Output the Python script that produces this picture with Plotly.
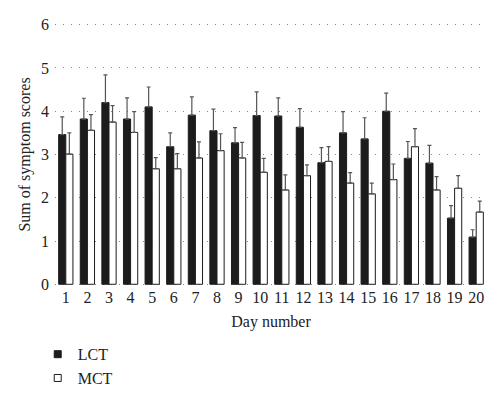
import plotly.graph_objects as go

days = [str(d) for d in range(1, 21)]
lct = [3.46, 3.82, 4.20, 3.82, 4.10, 3.18, 3.91, 3.55, 3.27, 3.90,
       3.89, 3.63, 2.81, 3.50, 3.36, 4.00, 2.91, 2.80, 1.53, 1.09]
lct_err = [0.41, 0.48, 0.64, 0.49, 0.46, 0.32, 0.42, 0.50, 0.35, 0.55,
           0.42, 0.43, 0.35, 0.49, 0.49, 0.42, 0.39, 0.41, 0.29, 0.17]
mct = [3.01, 3.56, 3.75, 3.51, 2.67, 2.67, 2.92, 3.09, 2.92, 2.59,
       2.18, 2.51, 2.84, 2.34, 2.09, 2.42, 3.18, 2.18, 2.22, 1.67]
mct_err = [0.49, 0.36, 0.38, 0.48, 0.26, 0.35, 0.37, 0.39, 0.36, 0.32,
           0.35, 0.25, 0.34, 0.24, 0.25, 0.36, 0.42, 0.31, 0.29, 0.25]

font = "Liberation Serif"
dark = "#1c1c1c"

fig = go.Figure()
fig.add_trace(go.Bar(
    x=days, y=lct, name="LCT", showlegend=False,
    marker=dict(color=dark, line=dict(color=dark, width=1)),
    error_y=dict(type="data", array=lct_err, symmetric=False, arrayminus=[0]*20,
                 color="#555555", thickness=1.2, width=2),
))
fig.add_trace(go.Bar(
    x=days, y=mct, name="MCT", showlegend=False,
    marker=dict(color="white", line=dict(color=dark, width=1)),
    error_y=dict(type="data", array=mct_err, symmetric=False, arrayminus=[0]*20,
                 color="#555555", thickness=1.2, width=2),
))
# legend entries with small square symbols
fig.add_trace(go.Scatter(
    x=[None], y=[None], mode="markers", name="LCT",
    marker=dict(symbol="square", size=7, color=dark, line=dict(color=dark, width=1)),
))
fig.add_trace(go.Scatter(
    x=[None], y=[None], mode="markers", name="MCT",
    marker=dict(symbol="square", size=7, color="white", line=dict(color=dark, width=1)),
))

fig.update_layout(
    width=500, height=401,
    margin=dict(l=47, r=21, t=15, b=123, autoexpand=False),
    paper_bgcolor="white", plot_bgcolor="white",
    barmode="group", bargap=0.34, bargroupgap=0,
    font=dict(family=font, size=16, color="#222222"),
    showlegend=True,
    legend=dict(orientation="v", x=-0.04, xanchor="left", y=-0.195, yanchor="top",
                font=dict(family=font, size=16, color="#222222"),
                itemwidth=30, tracegroupgap=2),
)
fig.update_xaxes(
    title=dict(text="Day number", font=dict(family=font, size=16), standoff=10),
    showgrid=False, showline=False, ticks="", ticklen=0, zeroline=False, automargin=False,
    tickfont=dict(family=font, size=16), ticklabelstandoff=0,
)
fig.update_yaxes(
    title=dict(text="Sum of symptom scores", font=dict(family=font, size=16), standoff=6),
    range=[-0.04, 6.04], tickvals=[0, 1, 2, 3, 4, 5, 6], showgrid=True,
    gridcolor="#888888", gridwidth=1, automargin=False,
    griddash="1px,7px", showline=False, ticks="", ticklen=0, zeroline=False,
    tickfont=dict(family=font, size=16), ticklabelstandoff=5,
)

fig.write_html("out.html")
